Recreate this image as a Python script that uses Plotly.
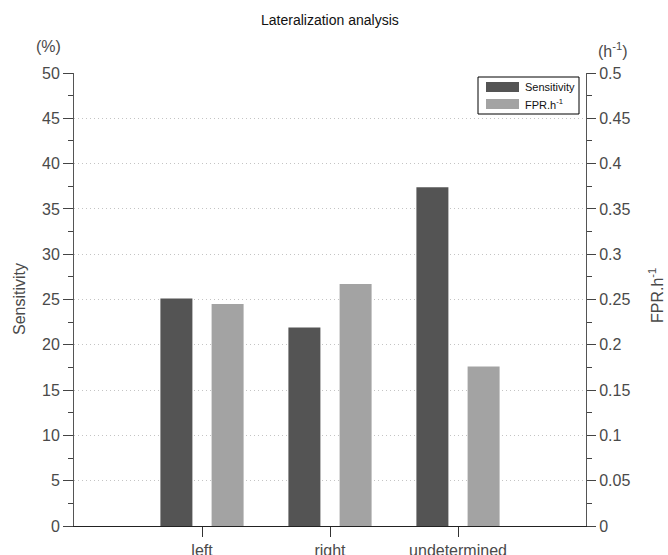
import plotly.graph_objects as go

categories = ["left", "right", "undetermined"]
cat_pos = [1, 2, 3]
sensitivity = [25.1, 21.9, 37.4]
fpr = [0.245, 0.267, 0.176]

left_ticks = [0, 5, 10, 15, 20, 25, 30, 35, 40, 45, 50]
right_ticks = [0, 0.05, 0.1, 0.15, 0.2, 0.25, 0.3, 0.35, 0.4, 0.45, 0.5]
right_tick_text = ["0", "0.05", "0.1", "0.15", "0.2", "0.25", "0.3", "0.35", "0.4", "0.45", "0.5"]

FONT = "Liberation Sans, Arial, sans-serif"
TXT = "#4a4a4a"
DARK = "#545454"
LIGHT = "#a3a3a3"

fig = go.Figure()
fig.add_trace(go.Bar(x=cat_pos, y=sensitivity, name="Sensitivity", width=0.25, offset=-0.325,
                     marker=dict(color=DARK, line=dict(width=0)), yaxis="y", showlegend=False))
fig.add_trace(go.Bar(x=cat_pos, y=fpr, name="FPR.h<sup>-1</sup>", width=0.25, offset=0.075,
                     marker=dict(color=LIGHT, line=dict(width=0)), yaxis="y2", showlegend=False))

fig.update_layout(
    width=668, height=555,
    margin=dict(l=74, r=82, t=73, b=29, autoexpand=False),
    paper_bgcolor="white", plot_bgcolor="white",
    barmode="overlay",
    font=dict(family=FONT, size=16, color=TXT),
    xaxis=dict(range=[0, 4], tickvals=cat_pos, ticktext=categories, ticks="outside",
               ticklen=10, tickcolor="#333", showline=True, linecolor="#222", linewidth=1,
               showgrid=False, zeroline=False, automargin=False,
               tickfont=dict(size=16, color=TXT)),
    yaxis=dict(range=[0, 50], tickvals=left_ticks, ticks="outside", ticklen=10, tickcolor="#444",
               showline=True, linecolor="#555", linewidth=1, zeroline=False,
               showgrid=True, gridcolor="#c4c4c4", griddash="1px,3px", gridwidth=1,
               minor=dict(dtick=2.5, ticks="outside", ticklen=5, tickcolor="#444", showgrid=False),
               automargin=False, tickfont=dict(size=16, color=TXT)),
    yaxis2=dict(range=[0, 0.5], tickvals=right_ticks, ticktext=right_tick_text,
                overlaying="y", side="right", anchor="x", ticks="outside", ticklen=9, tickcolor="#444",
                showline=True, linecolor="#555", linewidth=1, zeroline=False, showgrid=False,
                minor=dict(dtick=0.025, ticks="outside", ticklen=5, tickcolor="#444", showgrid=False),
                automargin=False, tickfont=dict(size=16, color=TXT)),
)

pl, pr, pt, pb = 74, 668 - 82, 73, 555 - 29
def px(x):
    return (x - pl) / (pr - pl)
def py(y):
    return (pb - y) / (pb - pt)

annotations = [
    ("Lateralization analysis", 330, 20, 0, 14, "#111"),
    ("(%)", 48, 47, 0, 16, TXT),
    ("(h<sup>-1</sup>)", 613, 50, 0, 16, TXT),
    ("Sensitivity", 19, 299, -90, 16, TXT),
    ("FPR.h<sup>-1</sup>", 656, 296, -90, 16, TXT),
]
for text, x, y, ang, size, col in annotations:
    fig.add_annotation(text=text, x=px(x), y=py(y), xref="paper", yref="paper", showarrow=False,
                       xanchor="center", yanchor="middle", textangle=ang,
                       font=dict(size=size, color=col))

# legend box (drawn manually to reproduce the wide MATLAB swatches)
lx0, lx1, ly0, ly1 = 478, 579, 77, 114
fig.add_shape(type="rect", xref="paper", yref="paper", x0=px(lx0), x1=px(lx1), y0=py(ly1), y1=py(ly0),
              line=dict(color="black", width=1), fillcolor="white", layer="above")
legend_items = [("Sensitivity", DARK, 87), ("FPR.h<sup>-1</sup>", LIGHT, 104)]
for name, col, yc in legend_items:
    fig.add_shape(type="rect", xref="paper", yref="paper", x0=px(486), x1=px(519),
                  y0=py(yc + 5), y1=py(yc - 5), line=dict(width=0), fillcolor=col, layer="above")
    fig.add_annotation(text=name, x=px(523), y=py(yc), xref="paper", yref="paper", showarrow=False,
                       xanchor="left", yanchor="middle", font=dict(size=11, color="#111"))

fig.write_html("out.html", config={"displayModeBar": False},
               post_script="document.body.style.margin='0';document.body.style.padding='0';")
